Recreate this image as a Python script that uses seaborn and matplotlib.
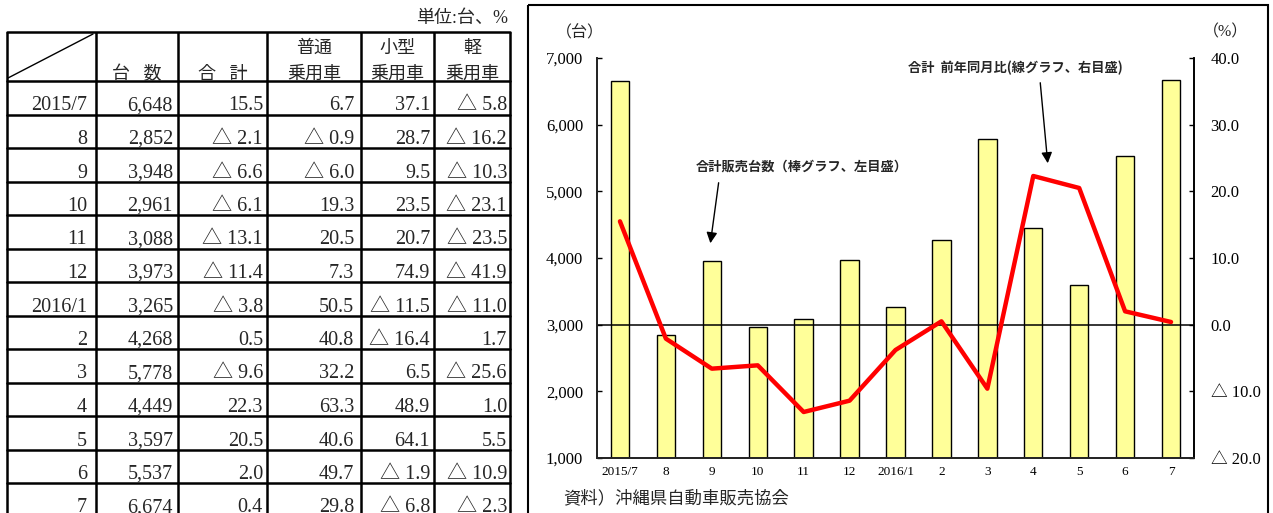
import numpy as np
import pandas as pd
import matplotlib
matplotlib.use('Agg')
import matplotlib.pyplot as plt
import seaborn as sns
from matplotlib.ticker import FuncFormatter, FixedLocator
from matplotlib.patches import Rectangle

# データ（沖縄県 新車販売台数）
months = ['2015/7', '8', '9', '10', '11', '12', '2016/1', '2', '3', '4', '5', '6', '7']
units = [6648, 2852, 3948, 2961, 3088, 3973, 3265, 4268, 5778, 4449, 3597, 5537, 6674]
total_yoy = [15.5, -2.1, -6.6, -6.1, -13.1, -11.4, -3.8, 0.5, -9.6, 22.3, 20.5, 2.0, 0.4]
futsu_yoy = [6.7, -0.9, -6.0, 19.3, 20.5, 7.3, 50.5, 40.8, 32.2, 63.3, 40.6, 49.7, 29.8]
kogata_yoy = [37.1, 28.7, 9.5, 23.5, 20.7, 74.9, -11.5, -16.4, 6.5, 48.9, 64.1, -1.9, -6.8]
kei_yoy = [-5.8, -16.2, -10.3, -23.1, -23.5, -41.9, -11.0, 1.7, -25.6, 1.0, 5.5, -10.9, -2.3]

header_top = ['', '', '', '普通', '小型', '軽']
header_bottom = ['', '台   数', '合   計', '乗用車', '乗用車', '乗用車']

left_ticks = [1000, 2000, 3000, 4000, 5000, 6000, 7000]
right_ticks = [-20, -10, 0, 10, 20, 30, 40]


def fmt_pct(v):
    # マイナスは△表記
    return f'△ {abs(v):.1f}' if v < 0 else f'{v:.1f}'


sns.set_theme(style='white')
plt.rcParams['font.family'] = ['Liberation Serif', 'Noto Sans CJK JP']
CJK_BOLD = ['Noto Sans CJK JP']

W, H = 1273, 513
fig = plt.figure(figsize=(W / 100, H / 100), dpi=100)

# --- グラフ部分 ---
ax = fig.add_axes([597 / W, 1 - 458 / H, (1194 - 597) / W, (458 - 58) / H])
df = pd.DataFrame({'month': months, 'units': units, 'yoy': total_yoy})
sns.barplot(data=df, x='month', y='units', ax=ax, color='#FFFF99', width=0.4,
            edgecolor='black', linewidth=1.0, saturation=1)
ax.set_ylim(1000, 7000)
ax.set_xlim(-0.5, len(months) - 0.5)
ax.set_xlabel('')
ax.set_ylabel('')
ax.yaxis.set_major_locator(FixedLocator(left_ticks))
ax.yaxis.set_major_formatter(FuncFormatter(lambda v, p: f'{int(v):,}'))
ax.tick_params(axis='y', direction='in', length=3.5, width=1, pad=10, labelsize=12, colors='black')
ax.tick_params(axis='x', length=0, pad=6, labelsize=9.5, colors='black')
for s in ['left', 'bottom', 'right']:
    ax.spines[s].set_visible(True)
    ax.spines[s].set_color('black')
    ax.spines[s].set_linewidth(1.2)
ax.spines['top'].set_visible(False)

ax2 = ax.twinx()
sns.lineplot(x=np.arange(len(months)), y=total_yoy, ax=ax2, color='#FF0000', linewidth=3.2)
ax2.axhline(0, color='black', linewidth=1.1, zorder=1)
ax2.set_ylim(-20, 40)
ax2.yaxis.set_major_locator(FixedLocator(right_ticks))
ax2.yaxis.set_major_formatter(FuncFormatter(lambda v, p: fmt_pct(v)))
ax2.tick_params(axis='y', direction='in', length=3.5, width=1, pad=12, labelsize=12, colors='black')
ax2.spines['top'].set_visible(False)
ax2.spines['right'].set_color('black')
ax2.spines['right'].set_linewidth(1.2)
ax2.set_ylabel('')

# --- 表・枠・注記（ピクセル座標） ---
ov = fig.add_axes([0, 0, 1, 1])
ov.set_xlim(0, W)
ov.set_ylim(H, 0)
ov.axis('off')

# グラフ枠
ov.add_patch(Rectangle((528, 5), 1268 - 528, 600, fill=False, edgecolor='black', linewidth=1.5))

ov.text(580, 33, '（台）', ha='center', va='center', fontsize=11.5)
ov.text(1226, 32, '（%）', ha='center', va='center', fontsize=11.5)

ov.text(802, 167, '合計販売台数（棒グラフ、左目盛）', ha='center', va='center',
        fontsize=9.5, fontweight='bold', family=CJK_BOLD)
ov.annotate('', xy=(710, 246), xytext=(719, 180),
            arrowprops=dict(arrowstyle='-|>', color='black', lw=1, mutation_scale=16))
ov.text(1015, 68, '合計  前年同月比(線グラフ、右目盛)', ha='center', va='center',
        fontsize=9.5, fontweight='bold', family=CJK_BOLD)
ov.annotate('', xy=(1048, 166), xytext=(1040, 80),
            arrowprops=dict(arrowstyle='-|>', color='black', lw=1, mutation_scale=16))

ov.text(563, 499, '資料）沖縄県自動車販売協会', ha='left', va='center', fontsize=12.5)

# 表
col_x = [7, 96, 178, 267, 361, 434, 510]
text_right = [87, 173, 263, 354, 430, 507]
top_y = 32
head_y = 81
row_h = 33.5
n = len(months)
row_lines = [head_y + row_h * k for k in range(n + 1)]

ov.text(508, 18, '単位:台、%', ha='right', va='center', fontsize=13)

lw = 1.8
for x in col_x:
    ov.plot([x, x], [top_y, H + 10], color='black', linewidth=lw, solid_capstyle='butt')
ov.plot([col_x[0], col_x[-1]], [top_y, top_y], color='black', linewidth=lw)
for y in row_lines:
    ov.plot([col_x[0], col_x[-1]], [y, y], color='black', linewidth=lw)
ov.plot([8, 93], [78, 34], color='black', linewidth=1)

for j in range(1, 6):
    cx = (col_x[j] + col_x[j + 1]) / 2
    if header_top[j]:
        ov.text(cx, 48, header_top[j], ha='center', va='center', fontsize=13)
    ov.text(cx, 74, header_bottom[j], ha='center', va='center', fontsize=13)

for i in range(n):
    base = row_lines[i + 1] - 4
    cells = [months[i], f'{units[i]:,}', fmt_pct(total_yoy[i]),
             fmt_pct(futsu_yoy[i]), fmt_pct(kogata_yoy[i]), fmt_pct(kei_yoy[i])]
    for j, c in enumerate(cells):
        ov.text(text_right[j], base, c, ha='right', va='baseline', fontsize=14.5)

fig.savefig('out.png', dpi=100)
